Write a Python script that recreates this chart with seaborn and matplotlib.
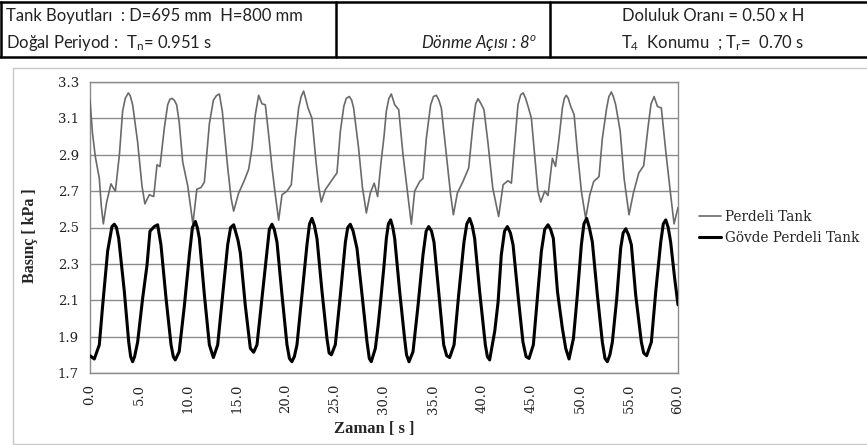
import matplotlib
matplotlib.use("Agg")
import matplotlib.pyplot as plt
import seaborn as sns
import pandas as pd
from matplotlib.lines import Line2D
from matplotlib.patches import Rectangle

# Perdeli Tank pressure record (time in s, pressure in kPa)
t_perdeli = [0.0, 0.25, 0.54, 0.95, 1.15, 1.36, 1.7, 2.14, 2.35, 2.59, 3.0, 3.33, 3.6, 3.91, 4.1, 4.35,
             4.86, 5.3, 5.6, 6.05, 6.5, 6.84, 7.14, 7.59, 7.93, 8.15, 8.37, 8.6, 8.84, 9.1, 9.46, 9.97,
             10.5, 10.9, 11.33, 11.67, 12.18, 12.59, 12.9, 13.2, 13.5, 14.05, 14.4, 14.66, 15.17, 15.68,
             16.19, 16.53, 16.87, 17.21, 17.55, 17.89, 18.23, 18.57, 18.91, 19.25, 19.59, 20.1, 20.54,
             20.95, 21.29, 21.55, 21.8, 22.0, 22.25, 22.65, 23.06, 23.35, 23.6, 24.0, 24.7, 25.2, 25.55,
             25.9, 26.15, 26.46, 26.7, 26.9, 27.4, 27.8, 28.2, 28.6, 29.0, 29.35, 29.7, 30.0, 30.24, 30.5,
             30.75, 31.09, 31.5, 31.94, 32.38, 32.79, 33.13, 33.64, 33.98, 34.32, 34.76, 35.05, 35.34,
             35.6, 35.85, 36.36, 36.8, 37.08, 37.49, 38.06, 38.64, 39.08, 39.35, 39.6, 39.9, 40.2, 40.6,
             41.1, 41.7, 42.15, 42.65, 43.0, 43.33, 43.67, 43.95, 44.2, 44.45, 44.7, 45.04, 45.4, 45.7,
             46.0, 46.4, 46.74, 47.18, 47.5, 47.86, 48.2, 48.4, 48.6, 48.8, 49.05, 49.4, 49.73, 50.14,
             50.58, 51.0, 51.4, 51.94, 52.28, 52.72, 52.95, 53.2, 53.4, 53.64, 54.1, 54.5, 55.0, 55.45,
             56.0, 56.5, 56.94, 57.25, 57.56, 57.9, 58.3, 58.75, 59.25, 59.6, 60.0]
p_perdeli = [3.20, 3.02, 2.89, 2.77, 2.62, 2.52, 2.64, 2.74, 2.72, 2.70, 2.90, 3.14, 3.21, 3.24, 3.225, 3.175,
             2.97, 2.73, 2.63, 2.68, 2.67, 2.845, 2.835, 3.05, 3.175, 3.205, 3.21, 3.20, 3.175, 3.08, 2.86, 2.73,
             2.52, 2.71, 2.72, 2.75, 3.07, 3.20, 3.225, 3.234, 3.14, 2.83, 2.66, 2.59, 2.69, 2.75,
             2.82, 2.936, 3.12, 3.227, 3.18, 3.175, 3.01, 2.83, 2.68, 2.54, 2.68, 2.70, 2.735,
             2.99, 3.157, 3.22, 3.25, 3.21, 3.157, 3.10, 2.863, 2.72, 2.64, 2.707, 2.762, 2.80, 3.03,
             3.166, 3.21, 3.22, 3.20, 3.157, 2.94, 2.72, 2.58, 2.69, 2.744, 2.67, 2.86, 3.00, 3.14, 3.21,
             3.234, 3.175, 3.148, 2.90, 2.70, 2.518, 2.70, 2.753, 2.77, 2.99, 3.175, 3.22, 3.227,
             3.20, 3.157, 2.90, 2.68, 2.57, 2.69, 2.753, 2.827, 3.065, 3.18, 3.208, 3.18, 3.148, 2.97,
             2.716, 2.56, 2.735, 2.757, 2.744, 2.955, 3.175, 3.23, 3.24, 3.21, 3.166, 3.10, 2.88, 2.70,
             2.64, 2.70, 2.676, 2.88, 2.836, 2.99, 3.157, 3.21, 3.227, 3.21, 3.166, 3.12, 2.92, 2.70,
             2.55, 2.68, 2.753, 2.78, 2.99, 3.157, 3.22, 3.245, 3.22, 3.175, 3.03, 2.77, 2.57, 2.69,
             2.80, 2.84, 3.05, 3.18, 3.22, 3.166, 3.157, 2.92, 2.68, 2.52, 2.61]

# Gövde Perdeli Tank pressure record
t_govde = [0.0, 0.44, 0.95, 1.29, 1.8, 2.24, 2.48, 2.7, 2.93, 3.5, 3.95, 4.15, 4.35, 4.55, 4.86, 5.37,
           5.82, 6.12, 6.56, 6.9, 7.24, 7.76, 8.27, 8.5, 8.7, 9.1, 9.63, 10.14, 10.45, 10.75, 10.95, 11.16,
           11.67, 12.18, 12.59, 13.03, 13.54, 14.05, 14.35, 14.66, 15.1, 15.34, 15.85, 16.36, 16.7, 17.04,
           17.55, 18.06, 18.3, 18.57, 18.8, 19.08, 19.59, 20.1, 20.35, 20.6, 20.85, 21.12, 21.63, 22.14,
           22.4, 22.65, 22.9, 23.16, 23.67, 24.18, 24.4, 24.63, 25.03, 25.55, 26.06, 26.3, 26.56, 26.85,
           27.24, 27.76, 28.27, 28.5, 28.7, 29.12, 29.4, 29.7, 30.0, 30.24, 30.45, 30.68, 30.9, 31.09,
           31.6, 32.1, 32.3, 32.55, 32.96, 33.47, 33.98, 34.3, 34.56, 34.85, 35.1, 35.58, 36.09, 36.4,
           36.7, 37.15, 37.62, 38.16, 38.45, 38.74, 39.0, 39.25, 39.76, 40.34, 40.55, 40.78, 41.3, 41.64,
           41.97, 42.3, 42.59, 42.9, 43.17, 43.67, 44.18, 44.5, 44.8, 45.24, 45.65, 46.06, 46.4, 46.74,
           47.0, 47.28, 47.7, 48.2, 48.54, 48.88, 49.33, 49.73, 50.14, 50.4, 50.68, 50.95, 51.26, 51.77,
           52.28, 52.55, 52.79, 53.05, 53.3, 53.75, 54.15, 54.4, 54.67, 54.95, 55.24, 55.68, 56.26, 56.5,
           56.8, 57.28, 57.73, 58.24, 58.5, 58.75, 59.0, 59.25, 59.66, 60.0]
p_govde = [1.795, 1.777, 1.855, 2.07, 2.37, 2.505, 2.518, 2.50, 2.44, 2.15, 1.87, 1.79, 1.762, 1.79, 1.87, 2.11,
           2.294, 2.48, 2.505, 2.515, 2.405, 2.11, 1.855, 1.79, 1.772, 1.817, 2.07, 2.35, 2.50, 2.533, 2.50, 2.44,
           2.13, 1.855, 1.785, 1.855, 2.13, 2.405, 2.50, 2.515, 2.43, 2.36, 2.07, 1.836, 1.814, 1.855,
           2.11, 2.37, 2.49, 2.518, 2.49, 2.42, 2.13, 1.855, 1.78, 1.762, 1.79, 1.855, 2.13, 2.405,
           2.52, 2.55, 2.51, 2.44, 2.15, 1.89, 1.81, 1.80, 1.855, 2.13, 2.42, 2.50, 2.518, 2.48,
           2.386, 2.13, 1.87, 1.78, 1.762, 1.836, 1.96, 2.12, 2.29, 2.44, 2.52, 2.542, 2.50, 2.44,
           2.148, 1.89, 1.80, 1.762, 1.817, 2.07, 2.35, 2.48, 2.505, 2.48, 2.42, 2.148, 1.855, 1.795,
           1.785, 1.855, 2.13, 2.42, 2.52, 2.55, 2.51, 2.44, 2.148, 1.855, 1.79, 1.772, 1.93, 2.09,
           2.35, 2.48, 2.505, 2.47, 2.405, 2.13, 1.87, 1.79, 1.78, 1.855, 2.11, 2.37, 2.49, 2.515,
           2.49, 2.44, 2.148, 1.946, 1.836, 1.777, 1.89, 2.13, 2.405, 2.52, 2.55, 2.50, 2.42, 2.13,
           1.87, 1.78, 1.762, 1.80, 1.87, 2.11, 2.386, 2.47, 2.493, 2.46, 2.405, 2.13, 1.87, 1.81,
           1.795, 1.87, 2.148, 2.42, 2.52, 2.542, 2.50, 2.42, 2.22, 2.075]

y_ticks = [1.7, 1.9, 2.1, 2.3, 2.5, 2.7, 2.9, 3.1, 3.3]
x_ticks = [0, 5, 10, 15, 20, 25, 30, 35, 40, 45, 50, 55, 60]
series_names = ["Perdeli Tank", "Gövde Perdeli Tank"]

sns.set_style("white")
plt.rcParams["mathtext.fontset"] = "custom"
plt.rcParams["mathtext.rm"] = "Lato"
plt.rcParams["mathtext.it"] = "Lato:italic"
plt.rcParams["lines.solid_joinstyle"] = "round"

W, H = 867, 445
fig = plt.figure(figsize=(W / 100, H / 100), dpi=100)

def fx(px):
    return px / W

def fy(py):
    return 1 - py / H

# header table
hdr = dict(color="black", lw=1.8, transform=fig.transFigure, clip_on=False)
fig.add_artist(Line2D([0, 1], [fy(1.5), fy(1.5)], **hdr))
fig.add_artist(Line2D([0, 1], [fy(57), fy(57)], **hdr))
for xv in (1, 336, 550):
    fig.add_artist(Line2D([fx(xv), fx(xv)], [fy(1.5), fy(57)], **hdr))

hfont = dict(family="Lato", fontsize=12, color="#222222")
fig.text(fx(6), fy(16), "Tank Boyutları  : D=695 mm  H=800 mm", ha="left", va="center", **hfont)
fig.text(fx(6), fy(43), r"Doğal Periyod :  T$_\mathrm{n}$= 0.951 s", ha="left", va="center", **hfont)
fig.text(fx(537), fy(43), r"Dönme Açısı : 8$^\mathit{o}$", ha="right", va="center",
         style="italic", **hfont)
fig.text(fx(713), fy(16), "Doluluk Oranı = 0.50 x H", ha="center", va="center", **hfont)
fig.text(fx(713), fy(43), r"T$_\mathrm{4}$  Konumu  ; T$_\mathrm{r}$=  0.70 s", ha="center",
         va="center", **hfont)

# chart frame
fig.add_artist(Rectangle((fx(13), fy(444)), fx(W + 10 - 13), fy(68) - fy(444), fill=False,
                         edgecolor="#c8c8c8", lw=1.0, transform=fig.transFigure))

# plot area
ax = fig.add_axes([fx(90), fy(373), fx(678 - 90), fy(82) - fy(373)])

df_p = pd.DataFrame({"t": t_perdeli, "p": p_perdeli})
df_g = pd.DataFrame({"t": t_govde, "p": p_govde})
sns.lineplot(data=df_p, x="t", y="p", ax=ax, color="#6a6a6a", lw=1.2, sort=False,
             label=series_names[0], zorder=3)
sns.lineplot(data=df_g, x="t", y="p", ax=ax, color="black", lw=2.2, sort=False,
             label=series_names[1], zorder=4)

ax.set_xlim(0, 60)
ax.set_ylim(1.7, 3.3)
ax.set_yticks(y_ticks)
ax.set_yticklabels([f"{v:.1f}" for v in y_ticks], family="DejaVu Serif", fontsize=9.5, color="#222222")
ax.set_xticks(x_ticks)
ax.set_xticklabels([f"{v:.1f}" for v in x_ticks], family="DejaVu Serif", fontsize=9.5,
                   rotation=90, color="#222222")
ax.grid(axis="y", color="#8c8c8c", lw=1.0)
ax.grid(axis="x", visible=False)
ax.set_axisbelow(True)
for s in ax.spines.values():
    s.set_color("#8c8c8c")
    s.set_linewidth(1.0)
ax.tick_params(axis="y", direction="out", length=4, width=1, color="#8c8c8c", pad=4)
ax.tick_params(axis="x", direction="out", length=0, pad=8)
ax.set_xlabel("")
ax.set_ylabel("")

fig.text(fx(30), fy(236), "Basınç [ kPa ]", rotation=90, ha="center", va="center",
         family="Liberation Serif", fontweight="bold", fontsize=11.5)
fig.text(fx(374), fy(429), "Zaman [ s ]", ha="center", va="center",
         family="Liberation Serif", fontweight="bold", fontsize=12)

leg = ax.legend(loc="center left", bbox_to_anchor=(fx(694 - 90) / fx(588), 0.5), frameon=False,
                prop={"family": "DejaVu Serif", "size": 9.8}, handlelength=1.6, handletextpad=0.25,
                labelspacing=0.5, borderaxespad=0)

fig.savefig("out.png", dpi=100)
